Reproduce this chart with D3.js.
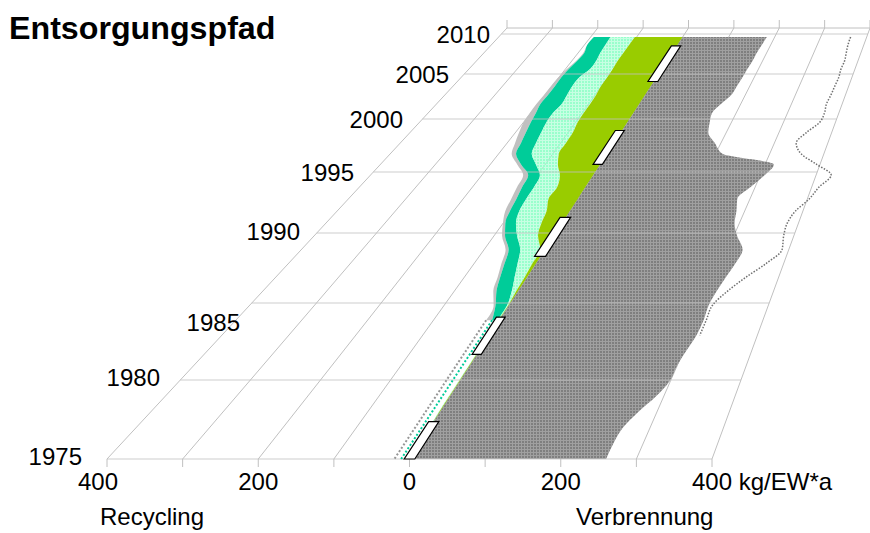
<!DOCTYPE html>
<html><head><meta charset="utf-8">
<script src="https://cdn.jsdelivr.net/npm/d3@7/dist/d3.min.js"></script>
<style>html,body{margin:0;padding:0;background:#fff}svg{display:block}text{font-family:"Liberation Sans",Arial,sans-serif;fill:#000}</style>
</head><body><svg id="c" width="870" height="533"></svg>
<script>
const years = d3.range(1975, 2011);
const gridYears = [1975,1980,1985,1990,1995,2000,2005,2010];
const xTickValues = [-400,-300,-200,-100,0,100,200,300,400];
const xTickLabels = [["400",-400],["200",-200],["0",0],["200",200]];
const yearLabels = ["1975","1980","1985","1990","1995","2000","2005","2010"];

const verbrennung = [260,260,263,274,289,299,300,304,309,310,308,311,316,322,324,305,292,286,278,292,308,316,213,189,166,158,153,161,172,174,176,177,179,179,181,183];
const gesamtRechts = [260,260,263,274,289,299,300,304,314,314,314,328,348,372,389,383,381,387,403,413,427,394,358,341,352,370,372,369,371,372,373,371,372,369,366,365];
const kompost = [0,0,0,-1,-1,-1,-1,-1,-1,-1,-1,-3,-4,-6,-8,-27,-35,-40,-51,-50,-60,-77,-89,-90,-91,-96,-97,-97,-98,-101,-101,-102,-104,-104,-104,-104];
const recyclingHell = [-1,-1,-1,-2,-2,-2,-2,-2,-2,-3,-3,-10,-20,-30,-41,-62,-78,-87,-90,-91,-96,-117,-139,-146,-151,-156,-157,-153,-156,-159,-158,-149,-149,-153,-155,-157];
const recyclingTeal = [-11,-11,-11,-11,-11,-11,-11,-11,-11,-11,-21,-34,-43,-51,-60,-82,-96,-103,-107,-112,-117,-144,-168,-174,-180,-186,-190,-195,-194,-194,-195,-193,-189,-187,-194,-193];
const recyclingGrau = [-20,-20,-20,-20,-20,-20,-20,-20,-20,-20,-24,-39,-47,-56,-65,-87,-100,-111,-116,-121,-126,-151,-176,-185,-193,-200,-202,-203,-202,-202,-201,-197,-191,-189,-194,-193];
const markerSpans = [[1975,1977.4],[1981.75,1984.2],[1988.5,1991.5],[1996,1999.2],[2004.5,2008.9]];
const markerLow = [-7,-7.5,-10,-13,-12];
const markerHigh = [7,6,8,4,8];

const W=[107,712], BACK=[507,870], yBottom=459, yBack=28;
const gridY = d3.scaleLinear().domain(gridYears).range([459,380,303,233,172,119,74,34]);
const dataY = d3.scaleLinear().domain(gridYears).range([459,381,305,235.5,175,122,77,37]);
const depth = d3.scaleLinear().domain([yBottom,yBack]).range([0,1]);
const front = d3.scaleLinear().domain([-400,400]).range(W);
const back = d3.scaleLinear().domain([-400,400]).range(BACK);
const px = (v,y)=>d3.interpolateNumber(front(v),back(v))(depth(y));

const svg=d3.select("#c");
const defs=svg.append("defs");
function pat(id,bg,bgOp,fg){
  const p=defs.append("pattern").attr("id",id).attr("patternUnits","userSpaceOnUse").attr("width",3).attr("height",3);
  p.append("rect").attr("width",3).attr("height",3).attr("fill",bg).attr("fill-opacity",bgOp);
  p.append("rect").attr("width",2).attr("height",2).attr("fill",fg);
}
pat("pGrey","#a0a0a0",1,"#7f7f7f");
pat("pLight","#99ffcc",.55,"#99ffcc");

const gridColor="#c0c0c0";
const g=svg.append("g").attr("fill","none").attr("stroke",gridColor).attr("stroke-width",1);
xTickValues.forEach(v=>{
  g.append("line").attr("x1",front(v)).attr("y1",yBottom).attr("x2",back(v)).attr("y2",yBack);
});
const backX=back.range();
g.append("line").attr("x1",backX[0]).attr("x2",backX[1]).attr("y1",yBack).attr("y2",yBack);
xTickValues.forEach(v=>{
  g.append("line").attr("x1",front(v)).attr("x2",front(v)).attr("y1",yBottom).attr("y2",yBottom+8);
  g.append("line").attr("x1",back(v)).attr("x2",back(v)).attr("y1",yBack-8).attr("y2",yBack);
});

const band=(outer,inner,from,fill)=>{
  const idx=d3.range(years.length-1,from-1,-1);
  const a=d3.area().curve(d3.curveMonotoneY).x0(i=>px(outer[i],dataY(years[i]))).x1(i=>px(inner[i],dataY(years[i]))).y(i=>dataY(years[i]));
  svg.append("path").attr("d",a(idx)).attr("fill",fill).attr("stroke","none");
};
const zero=years.map(()=>0);
const solidFrom=years.indexOf(1984);
band(recyclingGrau,recyclingTeal,solidFrom,"#c0c0c0");
band(recyclingTeal,recyclingHell,solidFrom,"#00cc99");
band(recyclingHell,kompost,0,"url(#pLight)");
band(kompost,zero,0,"#99cc00");
band(zero,verbrennung,0,"url(#pGrey)");

const gh=svg.append("g").attr("stroke",gridColor).attr("stroke-width",1.2).attr("stroke-opacity",.8);
gridYears.forEach(yr=>{
  const y=gridY(yr);
  gh.append("line").attr("x1",px(-400,y)).attr("x2",px(400,y)).attr("y1",y).attr("y2",y);
});

const dotted=(vals,idx,col,w)=>{
  const l=d3.line().curve(d3.curveMonotoneY).x(i=>px(vals[i],dataY(years[i]))).y(i=>dataY(years[i]));
  svg.append("path").attr("d",l(idx.slice().reverse())).attr("fill","none").attr("stroke",col).attr("stroke-width",w).attr("stroke-dasharray",w+" "+w);
};
dotted(recyclingGrau,d3.range(0,solidFrom+1),"#969696",2);
dotted(recyclingTeal,d3.range(0,solidFrom+1),"#00cc99",2);
dotted(gesamtRechts,d3.range(years.indexOf(1983),years.length),"#707070",1.5);

markerSpans.forEach(([a,b],i)=>{
  const y0=dataY(a),y1=dataY(b),lo=markerLow[i],hi=markerHigh[i];
  const pts=[[px(lo,y0),y0],[px(hi,y0),y0],[px(hi,y1),y1],[px(lo,y1),y1]];
  svg.append("path").attr("d",d3.line()(pts)+"Z").attr("fill","#fff").attr("stroke","#000").attr("stroke-width",1.2);
});

const F=24;
svg.append("text").attr("x",9).attr("y",39).attr("font-size",32.2).attr("font-weight","bold").text("Entsorgungspfad");
const labelRight=[82,160,240,300,354,403,449,490], labelMid=[457,378,323,232,173,120,75,35];
yearLabels.forEach((t,i)=>svg.append("text").attr("x",labelRight[i]).attr("y",labelMid[i]+8).attr("font-size",F).attr("text-anchor","end").text(t));
xTickLabels.forEach(([t,v])=>svg.append("text").attr("x",v===-400?98:front(v)).attr("y",490).attr("font-size",F).attr("text-anchor","middle").text(t));
svg.append("text").attr("x",692).attr("y",490).attr("font-size",F).text("400 kg/EW*a");
svg.append("text").attr("x",100).attr("y",525).attr("font-size",F).text("Recycling");
svg.append("text").attr("x",576).attr("y",525).attr("font-size",F).text("Verbrennung");
</script></body></html>
